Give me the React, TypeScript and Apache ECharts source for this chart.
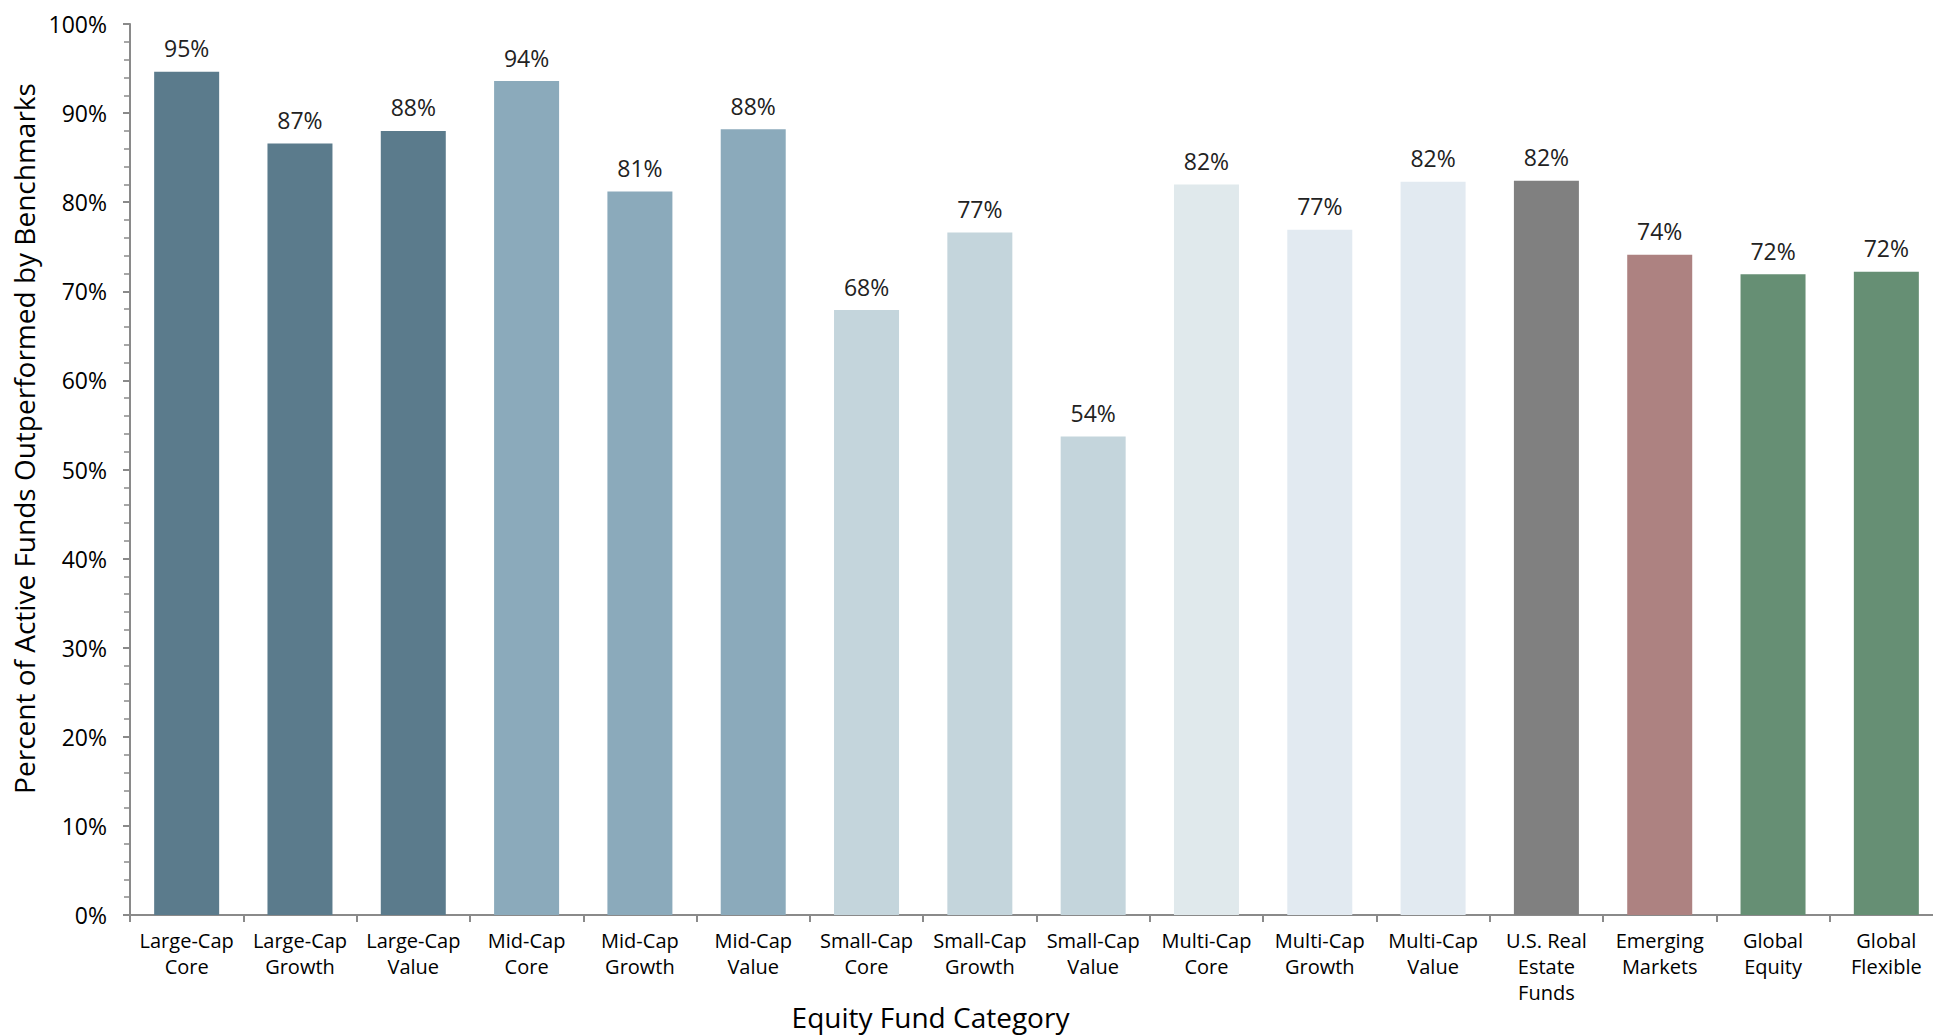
import React, { useEffect, useRef } from "react";
import * as echarts from "echarts";

const categories = [
  "Large-Cap\nCore",
  "Large-Cap\nGrowth",
  "Large-Cap\nValue",
  "Mid-Cap\nCore",
  "Mid-Cap\nGrowth",
  "Mid-Cap\nValue",
  "Small-Cap\nCore",
  "Small-Cap\nGrowth",
  "Small-Cap\nValue",
  "Multi-Cap\nCore",
  "Multi-Cap\nGrowth",
  "Multi-Cap\nValue",
  "U.S. Real\nEstate\nFunds",
  "Emerging\nMarkets",
  "Global\nEquity",
  "Global\nFlexible",
];

const values = [94.65, 86.6, 88.0, 93.6, 81.2, 88.2, 67.9, 76.6, 53.7, 82.0, 76.9, 82.3, 82.4, 74.1, 71.9, 72.2];

const groups = [
  "large", "large", "large",
  "mid", "mid", "mid",
  "small", "small", "small",
  "multiCore", "multi", "multi",
  "reit", "em", "global", "global",
];

const yTicks = [0, 10, 20, 30, 40, 50, 60, 70, 80, 90, 100];

const groupColors: Record<string, string> = {
  large: "#5B7B8C",
  mid: "#8BAABB",
  small: "#C4D5DC",
  multiCore: "#E0E9EC",
  multi: "#E2EAF1",
  reit: "#808080",
  em: "#AD8281",
  global: "#668F74",
};

const FONT = "'Open Sans', Lato, sans-serif";
const AXIS_GRAY = "#8A8A8A";

export default function App() {
  const ref = useRef<HTMLDivElement>(null);

  useEffect(() => {
    if (!ref.current) return;
    const chart = echarts.init(ref.current, undefined, { renderer: "svg" });
    chart.setOption({
      animation: false,
      textStyle: { fontFamily: FONT },
      grid: {
        left: 130,
        right: -10,
        top: 24,
        bottom: 120,
        containLabel: false,
        outerBoundsMode: "none",
      },
      xAxis: {
        type: "category",
        data: categories,
        name: "Equity Fund Category",
        nameLocation: "middle",
        nameGap: 88,
        nameMoveOverlap: false,
        nameTextStyle: { fontFamily: FONT, fontSize: 28, color: "#000", padding: [0, 212, 0, 0] },
        axisLine: { show: true, lineStyle: { color: AXIS_GRAY, width: 2 } },
        axisTick: { show: true, interval: 0, length: 7, lineStyle: { color: AXIS_GRAY, width: 2 } },
        axisLabel: {
          interval: 0,
          margin: 12,
          fontFamily: FONT,
          fontSize: 20,
          lineHeight: 26,
          color: "#000",
        },
      },
      yAxis: {
        type: "value",
        min: yTicks[0],
        max: yTicks[yTicks.length - 1],
        interval: 10,
        name: "Percent of Active Funds Outperformed by Benchmarks",
        nameLocation: "middle",
        nameGap: 88,
        nameTextStyle: { fontFamily: FONT, fontSize: 28, color: "#000", padding: [0, 0, 0, 62] },
        splitLine: { show: false },
        axisLine: { show: true, lineStyle: { color: AXIS_GRAY, width: 2 } },
        axisTick: { show: true, length: 7, lineStyle: { color: AXIS_GRAY, width: 2 } },
        minorTick: { show: true, splitNumber: 5, length: 6, lineStyle: { color: AXIS_GRAY, width: 1.5 } },
        axisLabel: {
          margin: 23,
          fontFamily: FONT,
          fontSize: 23,
          color: "#000",
          formatter: "{value}%",
        },
      },
      series: [
        {
          type: "bar",
          barWidth: 65,
          data: values.map((v, i) => ({
            value: v,
            itemStyle: { color: groupColors[groups[i]] },
          })),
          label: {
            show: true,
            position: "top",
            distance: 12,
            fontFamily: FONT,
            fontSize: 23,
            color: "#222",
            formatter: (p: any) => Math.round(p.value) + "%",
          },
        },
      ],
    });
    return () => chart.dispose();
  }, []);

  return (
    <div
      ref={ref}
      style={{ position: "absolute", left: 0, top: 0, width: 1933, height: 1035, background: "#fff" }}
    />
  );
}
